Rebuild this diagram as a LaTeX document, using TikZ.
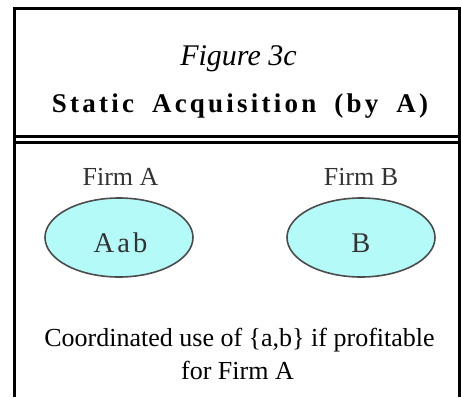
\documentclass[tikz,border=0pt]{standalone}
\usepackage{fontspec}
\setmainfont{Liberation Serif}
\newfontfamily\titlefont[LetterSpace=12,WordSpace=1.8]{Liberation Serif Bold}
\newfontfamily\spacedfont[LetterSpace=11]{Liberation Serif}
\usetikzlibrary{shapes.geometric}
\definecolor{cyanfill}{RGB}{180,250,248}
\tikzset{
  frameline/.style={line width=3pt, black},
  firm/.style={ellipse, draw=black!70, line width=1.6pt, fill=cyanfill,
    minimum width=148pt, minimum height=79pt, inner sep=0pt},
  lbl/.style={font=\fontsize{26}{30}\selectfont, text=black!80, inner sep=0pt, anchor=base},
  txt/.style={font=\fontsize{26}{30}\selectfont, inner sep=0pt, anchor=base}
}
\begin{document}
\begin{tikzpicture}[x=1pt,y=-1pt]
\useasboundingbox (0,0) rectangle (461,397);
% frame
\draw[frameline] (14.5,397) -- (14.5,8) -- (459.5,8) -- (459.5,397);
\draw[frameline] (14.5,136.5) -- (459.5,136.5);
\draw[frameline] (14.5,142.5) -- (459.5,142.5);
% titles
\node[txt, font=\fontsize{30}{36}\selectfont\itshape] (fig) at (238.5,65) {Figure 3c};
\node[txt, font=\fontsize{27}{30}\titlefont] (title) at (240,112) {Static Acquisition (by A)};
% firms
\node[lbl] (firmA) at (120.5,185) {Firm A};
\node[lbl] (firmB) at (361,185) {Firm B};
\node[firm] (eA) at (119,237.5) {};
\node[firm] (eB) at (361,237.5) {};
\node[lbl, font=\fontsize{28.5}{30}\spacedfont] (tA) at ([xshift=1.5pt]eA.center |- 0,252) {Aab};
\node[lbl, font=\fontsize{28.5}{30}\selectfont] (tB) at (eB.center |- 0,252) {B};
% bottom text
\node[txt] (l1) at (239.5,346) {Coordinated use of \{a,b\} if profitable};
\node[txt] (l2) at (237.5,379) {for Firm A};
\end{tikzpicture}
\end{document}
